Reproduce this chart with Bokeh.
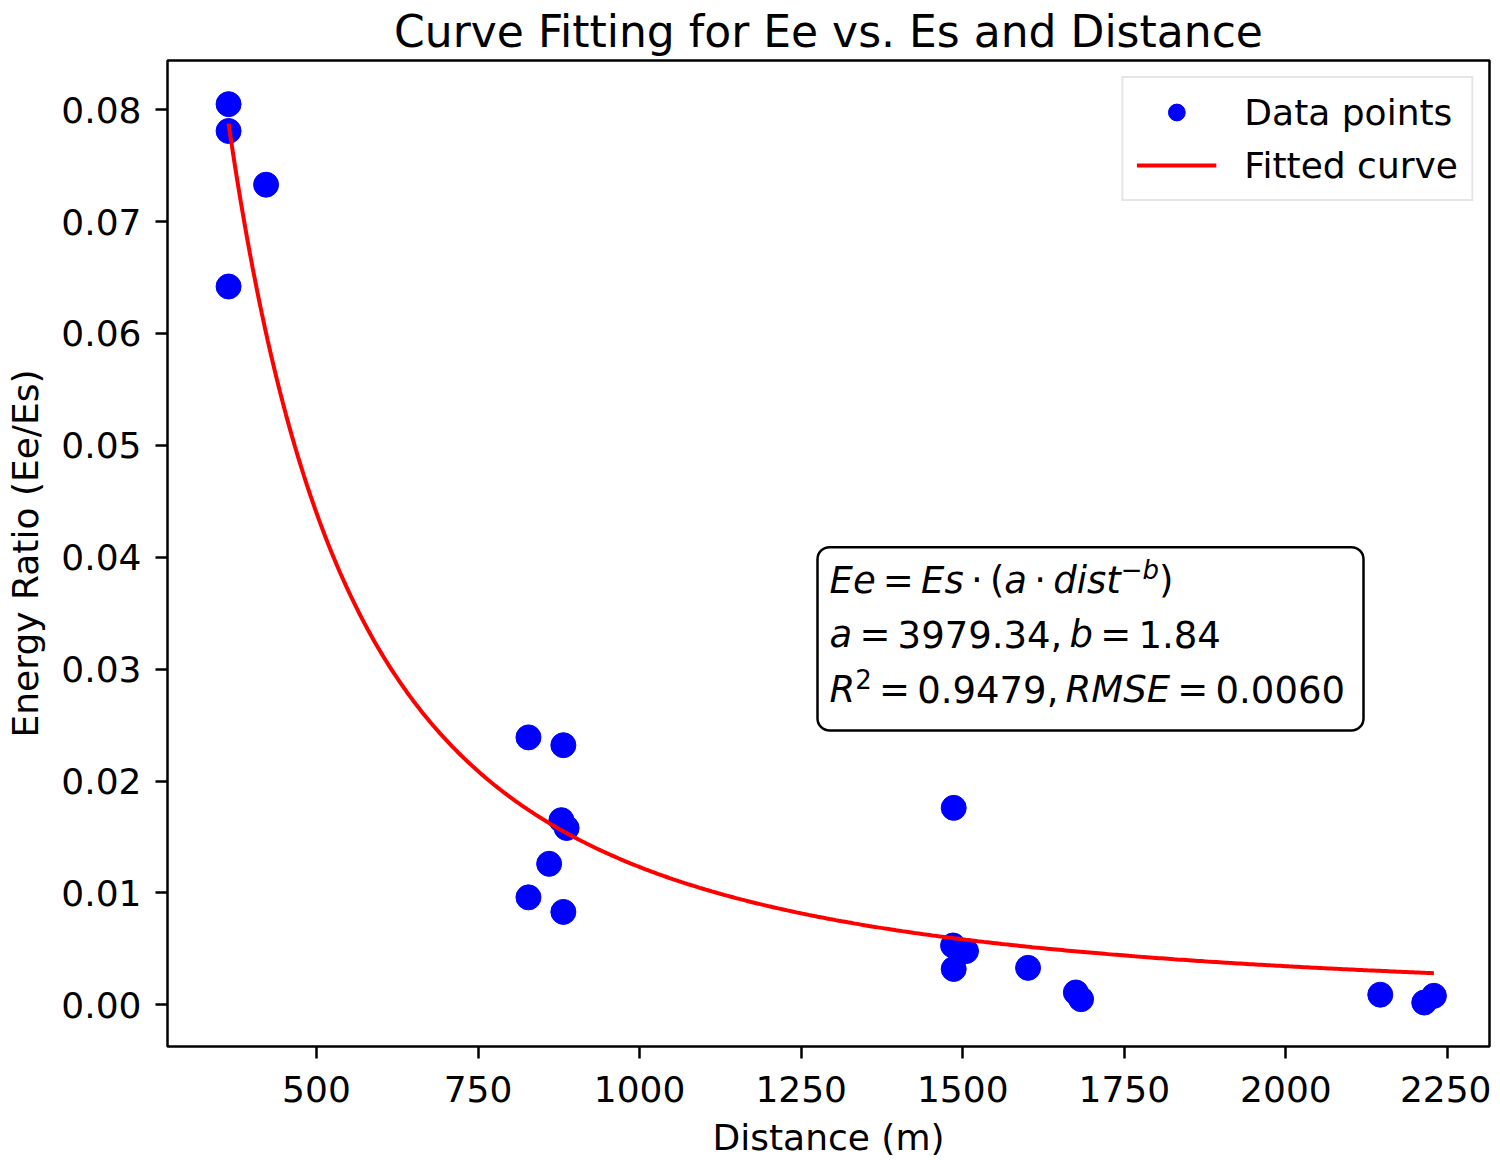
import numpy as np
from bokeh.plotting import figure
from bokeh.models import Range1d, FixedTicker, PrintfTickFormatter, Label, BoxAnnotation
from bokeh.embed import file_html
from bokeh.resources import INLINE

# ---- data ----
dist_m = [364, 364, 422, 364,
          828, 882, 879, 887, 860, 828, 882,
          1486, 1485, 1505, 1486, 1601, 1675, 1683,
          2146, 2214, 2229]
energy_ratio = [0.0805, 0.0781, 0.0733, 0.0642,
                0.0239, 0.0232, 0.0165, 0.0158, 0.0126, 0.0096, 0.0083,
                0.0176, 0.0053, 0.0048, 0.0032, 0.0033, 0.0011, 0.0005,
                0.0009, 0.0002, 0.0008]
fit_a = 3979.34
fit_b = 1.8365   # displayed rounded as 1.84
x_ticks = [500, 750, 1000, 1250, 1500, 1750, 2000, 2250]
y_ticks = [0.00, 0.01, 0.02, 0.03, 0.04, 0.05, 0.06, 0.07, 0.08]
title_text = "Curve Fitting for Ee vs. Es and Distance"

FONT = "DejaVu Sans"
TXT = "#000000"
X0, X1 = 269.5, 2315.0
Y0, Y1 = -0.00373, 0.0844
FW, FH = 1322, 986
FRAME_LEFT_PX, FRAME_TOP_PX = 168, 60   # where the frame sits in the reference


def px_to_x(px):
    return X0 + (px - FRAME_LEFT_PX) * (X1 - X0) / FW


def py_to_y(py):
    return Y1 - (py - FRAME_TOP_PX) * (Y1 - Y0) / FH


p = figure(frame_width=FW, frame_height=FH,
           x_range=Range1d(X0, X1), y_range=Range1d(Y0, Y1),
           output_backend="svg", toolbar_location=None,
           title=title_text,
           min_border_left=167, min_border_right=2, min_border_top=60, min_border_bottom=100)

p.title.text_font = FONT
p.title.text_font_size = "44px"
p.title.text_font_style = "normal"
p.title.text_color = TXT
p.title.align = "center"
p.title.standoff = 7

p.xgrid.visible = False
p.ygrid.visible = False
p.background_fill_color = "white"
p.border_fill_color = "white"
p.outline_line_color = "black"
p.outline_line_width = 2.5
p.outline_line_alpha = 1.0

for ax in (p.xaxis[0], p.yaxis[0]):
    ax.axis_line_color = None
    ax.major_tick_line_color = "black"
    ax.major_tick_line_width = 2.5
    ax.major_tick_out = 12
    ax.major_tick_in = 0
    ax.minor_tick_line_color = None
    ax.major_label_text_font = FONT
    ax.major_label_text_font_size = "36px"
    ax.major_label_text_color = TXT
    ax.axis_label_text_font = FONT
    ax.axis_label_text_font_size = "36px"
    ax.axis_label_text_font_style = "normal"
    ax.axis_label_text_color = TXT

p.xaxis.major_label_standoff = 17
p.xaxis.axis_label_standoff = 12
p.yaxis.major_label_standoff = 14
p.yaxis.axis_label_standoff = 12

p.xaxis.ticker = FixedTicker(ticks=x_ticks)
p.yaxis.ticker = FixedTicker(ticks=y_ticks)
p.yaxis.formatter = PrintfTickFormatter(format="%.2f")
p.xaxis.formatter = PrintfTickFormatter(format="%d")
p.xaxis.axis_label = "Distance (m)"
p.yaxis.axis_label = "Energy Ratio (Ee/Es)"

p.scatter(dist_m, energy_ratio, size=25, color="#0000ff", line_color="#0000ff",
          legend_label="Data points")

xs = np.linspace(min(dist_m), max(dist_m), 400)
ys = fit_a * xs ** (-fit_b)
p.line(xs, ys, line_color="#ff0000", line_width=4, legend_label="Fitted curve")

lg = p.legend[0]
lg.location = "top_right"
lg.margin = 16
lg.padding = 13
lg.spacing = 11
lg.glyph_width = 80
lg.glyph_height = 42
lg.label_standoff = 28
lg.label_text_font = FONT
lg.label_text_font_size = "36px"
lg.label_text_color = TXT
lg.border_line_color = "#cccccc"
lg.border_line_width = 2
lg.background_fill_alpha = 0.8

# ---- annotation box with fit results ----
box = BoxAnnotation(left=px_to_x(818), right=px_to_x(1364), top=py_to_y(546.7), bottom=py_to_y(730),
                    fill_color="white", fill_alpha=1.0,
                    line_color="black", line_alpha=1.0, line_width=2.5, border_radius=12)
p.add_layout(box)

# math-style text layout: DejaVu Sans advance widths (em) and thin spaces around operators
LIFT_EM = 0.333          # lift so that the alphabetic baseline lands where intended
F, FS = 37, 26           # main and superscript font sizes (px)
SP = 0.195               # space around relations / binary operators (em)
ADV = {"E": .632, "e": .615, "s": .521, "a": .613, "d": .635, "i": .278, "t": .392,
       "b": .635, "R": .695, "M": .863, "S": .635, "=": .838, "·": .318, "(": .390,
       ")": .390, "−": .838, ".": .318, ",": .318, " ": .318}
for dgt in "0123456789":
    ADV[dgt] = .636

# each line: list of (text, italic, superscript) or SP marker
lines = [
    [("Ee", 1, 0), SP, ("=", 0, 0), SP, ("Es", 1, 0), SP, ("·", 0, 0), SP, ("(", 0, 0),
     ("a", 1, 0), SP, ("·", 0, 0), SP, ("dist", 1, 0), ("−b", 1, 1), (")", 0, 0)],
    [("a", 1, 0), SP, ("=", 0, 0), SP, ("3979.34,", 0, 0), SP, ("b", 1, 0), SP, ("=", 0, 0), SP,
     ("1.84", 0, 0)],
    [("R", 1, 0), ("2", 0, 1), SP, ("=", 0, 0), SP, ("0.9479,", 0, 0), SP, ("RMSE", 1, 0), SP,
     ("=", 0, 0), SP, ("0.0060", 0, 0)],
]
baselines_px = [592, 646.5, 701.5]
x_anchor = px_to_x(830)

for toks, base_px in zip(lines, baselines_px):
    yb = py_to_y(base_px)
    pos = 0.0
    for tok in toks:
        if not isinstance(tok, tuple):
            pos += tok * F
            continue
        txt, ital, sup = tok
        sz = FS if sup else F
        p.add_layout(Label(x=x_anchor, y=yb, x_offset=pos, y_offset=(14 if sup else 0) + LIFT_EM * sz,
                           text=txt, text_font=FONT, text_font_size=f"{sz}px",
                           text_font_style="italic" if ital else "normal",
                           text_color=TXT, text_baseline="alphabetic", text_align="left"))
        pos += sum(ADV[c] for c in txt) * sz

open("out.html", "w").write(file_html(p, INLINE))
